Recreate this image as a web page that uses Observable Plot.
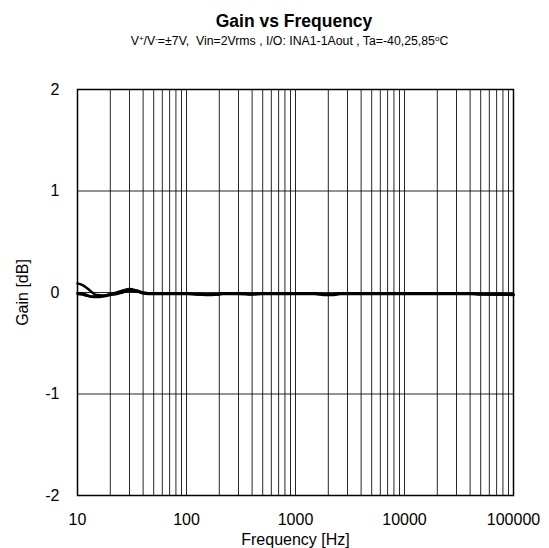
<!DOCTYPE html>
<html>
<head>
<meta charset="utf-8">
<script src="https://cdn.jsdelivr.net/npm/d3@7"></script>
<script src="https://cdn.jsdelivr.net/npm/@observablehq/plot@0.6"></script>
<style>
  body { margin: 0; background: #fff; font-family: "Liberation Sans", Arial, sans-serif; color: #000; }
  #wrap { width: 549px; }
  #title { height: 60px; text-align: center; position: relative; }
  #t1 { position: absolute; left: 39px; right: 0; top: 13px; font-weight: bold; font-size: 17.5px; line-height: 17.5px; white-space: nowrap; }
  #t2 { position: absolute; left: 30px; right: 0; top: 35px; font-size: 12.3px; line-height: 12.3px; white-space: nowrap; }
  sup { font-size: 8px; line-height: 0; vertical-align: 4px; }
  #chart svg { display: block; }
</style>
</head>
<body>
<div id="wrap">
  <div id="title">
    <div id="t1">Gain vs Frequency</div>
    <div id="t2">V<sup>+</sup>/V<sup>-</sup>=±7V,&nbsp; Vin=2Vrms , I/O: INA1-1Aout , Ta=-40,25,85<sup>o</sup>C</div>
  </div>
  <div id="chart"></div>
</div>
<script>
const freq = [10, 11, 12, 13, 14, 15, 17, 20, 23, 26, 30, 35, 40, 50, 70, 100, 130, 160, 190, 220, 300, 400, 500, 700, 1000, 1500, 1900, 2200, 2500, 3000, 5000, 10000, 20000, 40000, 50000, 70000, 100000];
const gainM40 = [0.09, 0.075, 0.05, 0.02, -0.01, -0.025, -0.03, -0.015, 0.0, 0.02, 0.035, 0.02, 0.0, -0.01, -0.01, -0.01, -0.02, -0.02, -0.02, -0.01, -0.01, -0.015, -0.01, -0.01, -0.01, -0.01, -0.02, -0.02, -0.015, -0.01, -0.01, -0.01, -0.01, -0.01, -0.015, -0.02, -0.02];
const gain25 = [-0.005, -0.01, -0.02, -0.035, -0.04, -0.04, -0.035, -0.02, -0.01, 0.01, 0.025, 0.015, -0.005, -0.01, -0.01, -0.01, -0.015, -0.02, -0.015, -0.01, -0.01, -0.015, -0.01, -0.01, -0.01, -0.01, -0.02, -0.02, -0.01, -0.01, -0.01, -0.01, -0.01, -0.01, -0.015, -0.015, -0.02];
const gain85 = [-0.015, -0.02, -0.03, -0.04, -0.045, -0.045, -0.04, -0.025, -0.015, 0.0, 0.015, 0.01, -0.01, -0.015, -0.015, -0.015, -0.02, -0.025, -0.02, -0.015, -0.015, -0.02, -0.015, -0.015, -0.015, -0.015, -0.025, -0.025, -0.015, -0.015, -0.015, -0.015, -0.015, -0.015, -0.02, -0.02, -0.025];
const xTicks = [10, 100, 1000, 10000, 100000];
const yTicks = [-2, -1, 0, 1, 2];

const series = [
  {name: "-40", values: gainM40},
  {name: "25", values: gain25},
  {name: "85", values: gain85}
];
const data = series.flatMap(s => freq.map((f, i) => ({f, g: s.values[i], s: s.name})));
const gridX = [];
for (let d = 10; d < 100000; d *= 10) for (let k = 1; k <= 9; k++) gridX.push(d * k);
gridX.push(100000);

const plot = Plot.plot({
  width: 549,
  height: 488,
  marginTop: 29,
  marginBottom: 53,
  marginLeft: 77,
  marginRight: 36,
  style: {fontFamily: "Liberation Sans, Arial, sans-serif", fontSize: "16px", color: "#000", background: "#fff"},
  x: {type: "log", domain: [10, 100000]},
  y: {domain: [-2, 2]},
  marks: [
    Plot.ruleX(gridX, {stroke: "#000", strokeWidth: 1, strokeOpacity: 0.85}),
    Plot.ruleY(yTicks, {stroke: "#000", strokeWidth: 1, strokeOpacity: 0.85}),
    Plot.line(data, {x: "f", y: "g", z: "s", stroke: "#000", strokeWidth: 2.4, curve: "monotone-x"}),
    Plot.frame({stroke: "#000", strokeWidth: 1.5}),
    Plot.axisX(xTicks, {tickSize: 0, tickPadding: 18, tickFormat: d => String(d), label: "Frequency [Hz]", labelAnchor: "center", labelArrow: "none", labelOffset: 49, fontSize: 16}),
    Plot.axisY(yTicks, {tickSize: 0, tickPadding: 18, tickFormat: d => String(d), label: "Gain [dB]", labelAnchor: "center", labelArrow: "none", labelOffset: 61, fontSize: 16})
  ]
});
document.getElementById("chart").appendChild(plot);
</script>
</body>
</html>
